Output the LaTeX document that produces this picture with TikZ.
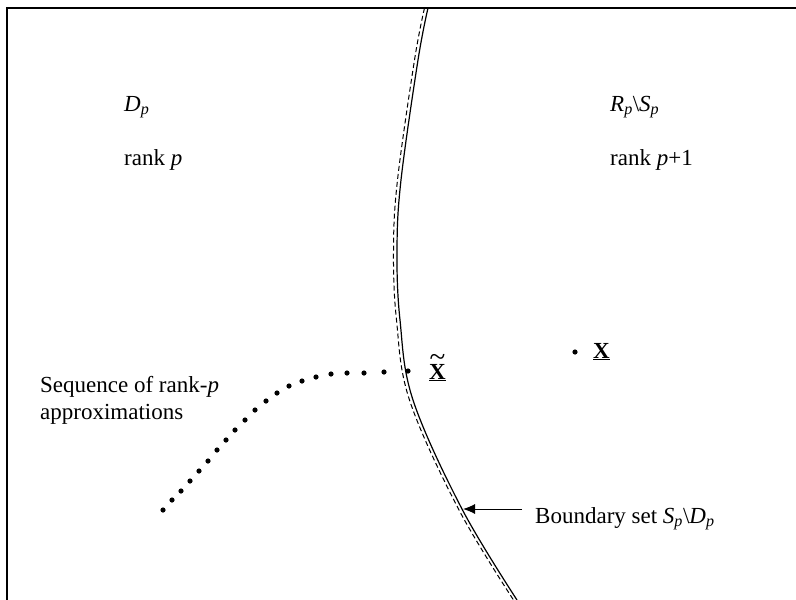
\documentclass[tikz,border=0pt]{standalone}
\usepackage{fontspec}
\setmainfont{Liberation Serif}
\usetikzlibrary{arrows.meta}
\newcommand{\isub}[1]{\textsubscript{\itshape #1}}
\newdimen\tilw
\newcommand{\bigtil}[1]{\setbox0\hbox{#1}\tilw=\wd0
  \hbox to \tilw{\hss\raisebox{0.56em}{\resizebox{0.95\tilw}{!}{\textasciitilde}}\hss}%
  \kern-\tilw\box0}
\tikzset{
  lbl/.style={anchor=base west, inner sep=0pt, font=\fontsize{23}{26}\selectfont},
  seqdot/.style={fill=black},
  bound/.style={line width=1.2pt},
}
\begin{document}
\begin{tikzpicture}[x=1pt,y=-1pt]
\useasboundingbox (0,0) rectangle (796,600);

% frame, top and left only
\draw[line width=1.6pt] (796,8) -- (7,8) -- (7,600);

% boundary curve, solid and dashed copy
\draw[bound] plot[smooth, tension=0.6] coordinates
  {(428,8) (418,60) (401,180) (397,250) (400,320) (413,400) (462,509) (517,600)};
\draw[line width=1pt, dash pattern=on 5pt off 3pt, xshift=-3.5pt] plot[smooth, tension=0.6] coordinates
  {(428,8) (418,60) (401,180) (397,250) (400,320) (413,400) (462,509) (517,600)};

% region labels
\node[lbl] (dp) at (124,111) {\textit{D}\isub{p}};
\node[lbl] (rankp) at (124,165) {rank \textit{p}};
\node[lbl] (rs) at (610,111) {\textit{R}\isub{p}\textbackslash\textit{S}\isub{p}};
\node[lbl] (rankq) at (610,165) {rank \textit{p}+1};

% sequence of approximations
\foreach \px/\py in {163/510, 172/500, 181/491, 190/481, 199/471, 208/461, 217/450,
  226/440, 235/430, 245/420, 255/410, 266/401, 277/393, 289/386, 302/381, 316/377,
  331/374, 347/373, 364/373, 384/372}
  \fill[seqdot] (\px,\py) circle (2.6pt);
\fill[seqdot] (408,371) circle (2.6pt) coordinate (xt);
\node[lbl] (xtl) at (429,379) {\underline{\bigtil{\textbf{X}}}};
\node[lbl] (seq1) at (40,392) {Sequence of rank-\textit{p}};
\node[lbl] (seq2) at (40,419) {approximations};

% the point X
\fill[seqdot] (575,352) circle (2.6pt) coordinate (xp);
\node[lbl] (xl) at (593,358) {\underline{\textbf{X}}};

% boundary label with arrow
\node[lbl] (bl) at (535,523) {Boundary set \textit{S}\isub{p}\textbackslash\textit{D}\isub{p}};
\coordinate (bt) at (463,509);
\draw[-{Latex[length=12pt,width=10pt]}, line width=1pt] (bl.west |- bt) ++(-13,0) -- (bt);
\end{tikzpicture}
\end{document}
